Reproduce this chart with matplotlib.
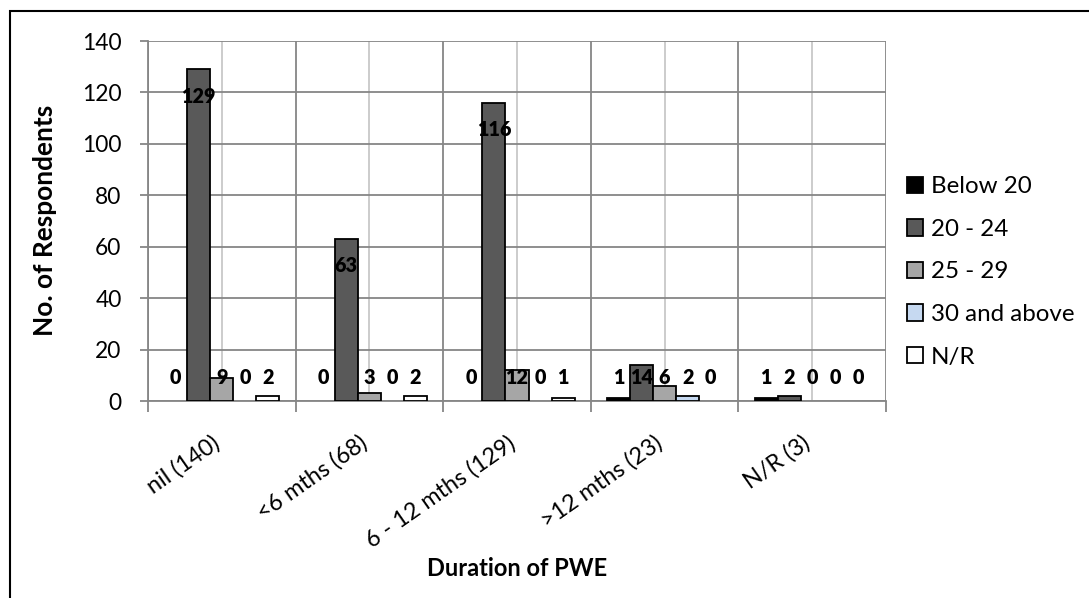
import numpy as np
import matplotlib
matplotlib.use("Agg")
import matplotlib.pyplot as plt
from matplotlib.patches import Patch, Rectangle
from matplotlib.textpath import TextPath
from matplotlib.font_manager import FontProperties

plt.rcParams['font.family'] = ['Lato', 'DejaVu Sans']

# data
categories = ['nil (140)', '<6 mths (68)', '6 - 12 mths (129)', '>12 mths (23)', 'N/R (3)']
series_names = ['Below 20', '20 - 24', '25 - 29', '30 and above', 'N/R']
below_20 = [0, 0, 0, 1, 1]
age_20_24 = [129, 63, 116, 14, 2]
age_25_29 = [9, 3, 12, 6, 0]
age_30_up = [0, 0, 0, 2, 0]
age_nr = [2, 2, 1, 0, 0]
yticks = [0, 20, 40, 60, 80, 100, 120, 140]

series = [below_20, age_20_24, age_25_29, age_30_up, age_nr]
colors = ['#000000', '#595959', '#A6A6A6', '#C6D9F1', '#FFFFFF']

DPI = 100


def fit_size(s, px, weight='normal'):
    # font size (pt) that gives the string an ink width of px pixels
    w = TextPath((0, 0), s, size=10,
                 prop=FontProperties(family='Lato', weight=weight)).get_extents().width
    return 10 * px / w * 72 / DPI


fs_tick = fit_size('6 - 12 mths (129)', 175)
fs_ytick = fit_size('140', 37)
fs_data = fit_size('129', 32, 'bold')
fs_xlabel = fit_size('Duration of PWE', 178, 'bold')
fs_ylabel = fit_size('No. of Respondents', 228, 'bold')
fs_leg = fit_size('30 and above', 142)

fig = plt.figure(figsize=(10.89, 5.98), dpi=DPI)
ax = fig.add_axes([148/1089, 197/598, 738/1089, 360/598])

x = np.arange(len(categories))
w = 0.156
for j, (vals, col) in enumerate(zip(series, colors)):
    pos = x + (j - 2) * w
    edges = ['black' if v > 0 else 'none' for v in vals]
    ax.bar(pos, vals, width=w, color=col, edgecolor=edges, linewidth=1.3, zorder=3)
    for px, v in zip(pos, vals):
        ly = max(v - 10.5, 9.3)
        ax.text(px, ly, str(v), ha='center', va='center', fontsize=fs_data,
                fontweight='heavy', color='black', zorder=5)

ax.set_xlim(-0.5, len(categories) - 0.5)
ax.set_ylim(0, 140)
ax.set_yticks(yticks)
ax.set_yticklabels([str(t) for t in yticks], fontsize=fs_ytick)

# major ticks on category edges, minor on centres (for light gridlines)
ax.set_xticks(np.arange(len(categories) + 1) - 0.5)
ax.set_xticklabels([])
ax.set_xticks(x, minor=True)
ax.tick_params(axis='x', which='major', length=8, color='#868686', width=1.3)
ax.tick_params(axis='x', which='minor', length=0)
ax.tick_params(axis='y', length=6, color='#868686', width=1.3, pad=13)

ax.grid(axis='y', color='#868686', linewidth=1.3, zorder=0)
ax.grid(axis='x', which='major', color='#868686', linewidth=1.3, zorder=0)
ax.grid(axis='x', which='minor', color='#C8C8C8', linewidth=1.3, zorder=0)

for s in ['top', 'right']:
    ax.spines[s].set_visible(False)
for s in ['left', 'bottom']:
    ax.spines[s].set_color('#868686')
    ax.spines[s].set_linewidth(1.3)

for xi, lab in zip(x, categories):
    ax.text(xi - 0.07, -12.0, lab, rotation=35, ha='right', va='top',
            rotation_mode='anchor', fontsize=fs_tick, transform=ax.transData)

fig.text(517/1089, 1 - 568/598, 'Duration of PWE', ha='center', va='center',
         fontsize=fs_xlabel, fontweight='bold')
fig.text(45/1089, 1 - 220/598, 'No. of Respondents', ha='center', va='center',
         rotation=90, fontsize=fs_ylabel, fontweight='bold')

handles = [Patch(facecolor=c, edgecolor='black', linewidth=1.3) for c in colors]
fig.legend(handles, series_names, loc='center left',
           bbox_to_anchor=(907/1089, 1 - 272/598), frameon=False, fontsize=fs_leg,
           handlelength=0.65, handleheight=0.65, handletextpad=0.35,
           labelspacing=0.89, borderpad=0, borderaxespad=0)

# outer chart frame (right and bottom edges fall outside the image)
fig.patches.append(Rectangle((10/1089, -0.2), 1.2, 1.2 - 11/598,
                             transform=fig.transFigure, fill=False,
                             edgecolor='black', linewidth=1.5))

fig.savefig('out.png', dpi=DPI)
